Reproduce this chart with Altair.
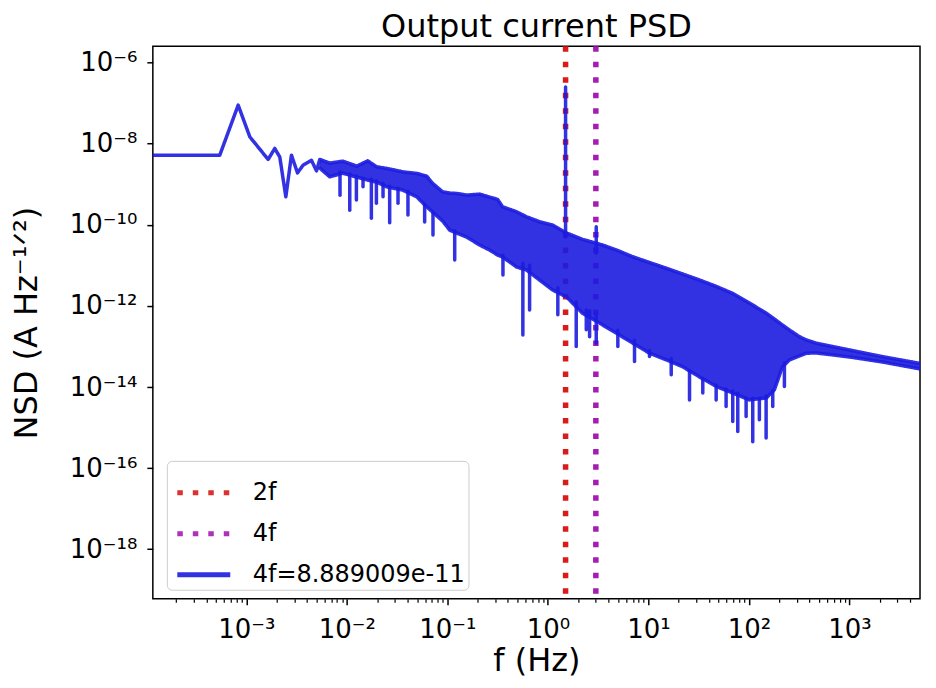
import math
import altair as alt
import pandas as pd

FONT = "DejaVu Sans"
BLUE = "#1c1ce0"
RED = "#d81b1b"
PURPLE = "#a51cb0"

# ---- data (log10 of frequency in Hz and of NSD in A/sqrt(Hz)) ----
LOW_LOGF = [-3.93, -3.264, -3.081, -2.965, -2.783, -2.717, -2.667, -2.607, -2.551,
            -2.491, -2.435, -2.352, -2.302, -2.269]
LOW_LOGV = [-8.283, -8.283, -7.050, -7.833, -8.389, -8.118, -8.330, -9.310, -8.283,
            -8.720, -8.530, -8.410, -8.670, -8.389]

# dense part of the spectrum: upper and lower edge of the noise band
BAND_LOGF = [-2.269, -2.170, -2.041, -1.902, -1.792, -1.703, -1.603, -1.444, -1.305,
             -1.206, -1.146, -1.047, -0.977, -0.908, -0.808, -0.679, -0.580, -0.500,
             -0.450, -0.311, -0.212, -0.083, 0.047, 0.186, 0.345, 0.544, 0.683, 0.842,
             1.011, 1.180, 1.339, 1.508, 1.677, 1.836, 2.005, 2.174, 2.253, 2.333,
             2.403, 2.502, 2.572, 2.671, 2.999, 3.327, 3.702]
BAND_HI = [-8.389, -8.480, -8.431, -8.554, -8.424, -8.571, -8.611, -8.695, -8.734,
           -8.800, -8.980, -9.187, -9.219, -9.227, -9.268, -9.244, -9.318, -9.374,
           -9.557, -9.680, -9.803, -9.926, -10.007, -10.204, -10.360, -10.500, -10.623,
           -10.788, -10.931, -11.074, -11.214, -11.362, -11.522, -11.690, -11.929,
           -12.182, -12.323, -12.470, -12.594, -12.759, -12.840, -12.921, -13.086,
           -13.251, -13.419]
BAND_LO = [-8.603, -8.818, -8.727, -8.825, -8.899, -8.948, -9.064, -9.145, -9.310,
           -9.557, -9.687, -9.909, -10.131, -10.204, -10.303, -10.500, -10.623, -10.746,
           -10.796, -11.042, -11.116, -11.362, -11.608, -11.781, -12.182, -12.470,
           -12.675, -12.914, -13.167, -13.332, -13.498, -13.751, -13.990, -14.145,
           -14.318, -14.268, -14.071, -13.505, -13.332, -13.234, -13.167, -13.160,
           -13.259, -13.382, -13.554]

# narrow downward spikes below the band
DIP_LOGF = [-2.068, -1.971, -1.905, -1.839, -1.756, -1.706, -1.640, -1.574, -1.491,
            -1.392, -1.226, -1.143, -0.927, -0.447, -0.249, -0.182, 0.099, 0.282, 0.382,
            0.415, 0.481, 0.696, 0.862, 1.011, 1.227, 1.409, 1.541, 1.674, 1.773, 1.839,
            1.889, 1.972, 2.038, 2.104, 2.171, 2.237, 2.353]
DIP_TOP = [-8.70, -8.75, -8.80, -8.85, -8.88, -8.92, -8.98, -9.05, -9.10, -9.18, -9.50,
           -9.70, -10.15, -10.75, -10.95, -11.00, -11.55, -11.90, -12.10, -12.12, -12.20,
           -12.60, -12.85, -13.10, -13.30, -13.60, -13.80, -13.95, -14.05, -14.10,
           -14.15, -14.28, -14.28, -14.28, -14.22, -14.10, -13.40]
DIP_BOT = [-9.27, -9.64, -9.39, -9.06, -9.84, -9.47, -9.31, -9.95, -9.47, -9.76, -9.93,
           -10.25, -10.87, -11.24, -12.72, -12.10, -12.22, -13.00, -12.59, -12.76,
           -12.92, -13.00, -13.37, -13.25, -13.70, -14.32, -14.15, -14.32, -14.48,
           -14.85, -15.10, -14.73, -15.35, -14.81, -15.26, -14.48, -13.99]

# narrow upward spikes at 2f and 4f
PEAK_LOGF = [0.176, 0.481]
PEAK_TOP = [-6.60, -10.05]
PEAK_BOT = [-10.30, -10.70]

VLINE_F = [1.5, 3.0]
VLINE_NAMES = ["2f", "4f"]
SERIES_NAME = "4f=8.889009e-11"

X_MAJOR = [1e-3, 1e-2, 1e-1, 1e0, 1e1, 1e2, 1e3]
X_MINOR = [m * 10.0 ** k for k in range(-4, 4) for m in range(2, 10)
           if 1.2e-4 < m * 10.0 ** k < 4500]
Y_MAJOR = [1e-6, 1e-8, 1e-10, 1e-12, 1e-14, 1e-16, 1e-18]

X_DOMAIN = [10 ** -3.93, 10 ** 3.702]
Y_DOMAIN = [10 ** -19.22, 10 ** -5.6]

# ---- tables ----
line_df = pd.DataFrame({
    "f": [10 ** a for a in LOW_LOGF + BAND_LOGF[1:] + BAND_LOGF],
    "v": [10 ** a for a in LOW_LOGV + BAND_HI[1:] + BAND_LO],
    "part": ["main"] * (len(LOW_LOGF) + len(BAND_LOGF) - 1) + ["lo"] * len(BAND_LOGF),
})
line_df["series"] = SERIES_NAME
band_df = pd.DataFrame({"f": [10 ** a for a in BAND_LOGF],
                        "hi": [10 ** a for a in BAND_HI],
                        "lo": [10 ** a for a in BAND_LO]})
dip_df = pd.DataFrame({"f": [10 ** a for a in DIP_LOGF],
                       "top": [10 ** a for a in DIP_TOP],
                       "bot": [10 ** a for a in DIP_BOT]})
peak_df = pd.DataFrame({"f": [10 ** a for a in PEAK_LOGF],
                        "top": [10 ** a for a in PEAK_TOP],
                        "bot": [10 ** a for a in PEAK_BOT]})
vline_df = pd.DataFrame({"f": VLINE_F, "series": VLINE_NAMES})

SUP = str.maketrans("-0123456789", "⁻⁰¹²³⁴⁵⁶⁷⁸⁹")


def pow_label_expr(values):
    parts = []
    for v in values:
        e = int(round(math.log10(v)))
        parts.append(f"round(log(datum.value)/LN10) == {e} ? '10{str(e).translate(SUP)}'")
    return " : ".join(parts) + " : ''"


xscale = alt.Scale(type="log", domain=X_DOMAIN, nice=False)
yscale = alt.Scale(type="log", domain=Y_DOMAIN, nice=False)

x_major_axis = alt.Axis(values=X_MAJOR, labelExpr=pow_label_expr(X_MAJOR), title="f (Hz)",
                        tickSize=6, tickWidth=1.5, tickColor="black", domain=False, grid=False,
                        labelFont=FONT, labelFontSize=26, labelColor="black",
                        labelBaseline="alphabetic", labelPadding=33, labelFlush=False,
                        labelOverlap=False, titleFont=FONT, titleFontSize=32,
                        titleFontWeight="normal", titleColor="black", titleY=72,
                        titleBaseline="alphabetic", orient="bottom")
x_minor_axis = alt.Axis(values=X_MINOR, labels=False, tickSize=3.5, tickWidth=1.2,
                        tickColor="black", domain=False, grid=False, title=None,
                        orient="bottom")
y_axis = alt.Axis(values=Y_MAJOR, labelExpr=pow_label_expr(Y_MAJOR),
                  title="NSD (A Hz⁻¹ᐟ²)", tickSize=6, tickWidth=1.5, tickColor="black",
                  domain=False, grid=False, labelFont=FONT, labelFontSize=26,
                  labelColor="black", labelPadding=10, labelBaseline="middle",
                  labelOverlap=False, titleFont=FONT, titleFontSize=32,
                  titleFontWeight="normal", titleColor="black", titleAngle=270,
                  titleX=-116, titleY=276.5, titleBaseline="alphabetic", titleAlign="center")

legend = alt.Legend(title=None, orient="none", legendX=14, legendY=415,
                    symbolType="stroke", symbolSize=2809, symbolStrokeWidth=5,
                    symbolOffset=5, labelFont=FONT, labelFontSize=24, labelColor="black",
                    labelOffset=20, rowPadding=0, padding=3, fillColor="white",
                    strokeColor="#cccccc", cornerRadius=5, labelLimit=400)
names = VLINE_NAMES + [SERIES_NAME]
cscale = alt.Scale(domain=names, range=[RED, PURPLE, BLUE])
dscale = alt.Scale(domain=names, range=[[5.5, 10], [5.5, 10], [1, 0]])

vlines = alt.Chart(vline_df).mark_rule(strokeWidth=5.5, strokeCap="butt").encode(
    x=alt.X("f:Q", scale=xscale, axis=x_major_axis),
    color=alt.Color("series:N", scale=cscale, legend=legend),
    strokeDash=alt.StrokeDash("series:N", scale=dscale, legend=legend),
)
band = alt.Chart(band_df).mark_area(color=BLUE, opacity=0.9).encode(
    x=alt.X("f:Q", scale=xscale, axis=None),
    y=alt.Y("hi:Q", scale=yscale, axis=y_axis),
    y2="lo:Q",
)
dips = alt.Chart(dip_df).mark_rule(color=BLUE, strokeWidth=3.5, strokeCap="round", opacity=0.9).encode(
    x=alt.X("f:Q", scale=xscale, axis=None),
    y=alt.Y("top:Q", scale=yscale, axis=y_axis),
    y2="bot:Q",
)
peaks = alt.Chart(peak_df).mark_rule(color=BLUE, strokeWidth=3.5, strokeCap="round", opacity=0.9).encode(
    x=alt.X("f:Q", scale=xscale, axis=None),
    y=alt.Y("top:Q", scale=yscale, axis=y_axis),
    y2="bot:Q",
)
line = alt.Chart(line_df).mark_line(strokeWidth=3.5, strokeJoin="round", strokeCap="round",
                                    opacity=0.9, clip=True).encode(
    x=alt.X("f:Q", scale=xscale, axis=None),
    y=alt.Y("v:Q", scale=yscale, axis=y_axis),
    detail="part:N",
    color=alt.Color("series:N", scale=cscale, legend=legend),
    strokeDash=alt.StrokeDash("series:N", scale=dscale, legend=legend),
)
minor = alt.Chart(vline_df).mark_rule(opacity=0).encode(
    x=alt.X("f:Q", scale=xscale, axis=x_minor_axis),
)

chart = alt.layer(vlines, band, dips, peaks, line, minor).resolve_axis(
    x="independent"
).properties(
    width=768, height=553,
    padding={"left": 145, "top": 38, "right": 8, "bottom": 81},
    autosize=alt.AutoSizeParams(type="none"),
    background="white",
    title=alt.Title("Output current PSD", font=FONT, fontSize=32, fontWeight="normal",
                    color="black", anchor="middle", offset=0),
).configure_view(stroke="black", strokeWidth=1.5)

chart.save("out.html", embed_options={"renderer": "svg", "actions": False})
